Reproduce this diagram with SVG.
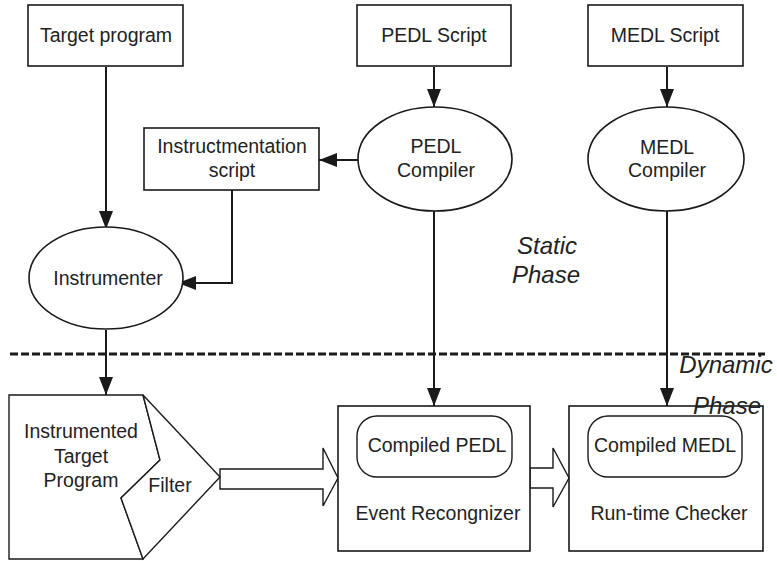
<svg xmlns="http://www.w3.org/2000/svg" width="777" height="561" viewBox="0 0 777 561">
  <style>
    .box { fill: #fff; stroke: #1a1a1a; stroke-width: 1.6; }
    .line { fill: none; stroke: #1a1a1a; stroke-width: 2; }
    .thin { fill: #fff; stroke: #1a1a1a; stroke-width: 1.4; }
    text { font-family: "Liberation Sans", Arial, sans-serif; font-size: 19.5px; fill: #222; text-anchor: middle; }
    .phase { font-size: 24px; font-style: italic; }
  </style>
  <defs>
    <marker id="arrow" markerUnits="userSpaceOnUse" markerWidth="18" markerHeight="14" refX="18" refY="7" orient="auto">
      <path d="M0,0 L18,7 L0,14 Z" fill="#1a1a1a"/>
    </marker>
  </defs>

  <!-- phase separator -->
  <line x1="10" y1="354" x2="765" y2="354" stroke="#1a1a1a" stroke-width="3" stroke-dasharray="8,3"/>

  <g id="connectors">
    <path class="line" d="M106,67 V229" marker-end="url(#arrow)"/>
    <path class="line" d="M434,67 V107" marker-end="url(#arrow)"/>
    <path class="line" d="M667,67 V107" marker-end="url(#arrow)"/>
    <path class="line" d="M358,160 H319" marker-end="url(#arrow)"/>
    <path class="line" d="M232,190 V283 H178" marker-end="url(#arrow)"/>
    <path class="line" d="M106,330 V395" marker-end="url(#arrow)"/>
    <path class="line" d="M434,211 V406" marker-end="url(#arrow)"/>
    <path class="line" d="M667,211 V406" marker-end="url(#arrow)"/>
    <!-- block arrows -->
    <path class="thin" d="M220,469 H323 V448 L338,478 L323,506 V489 H220 Z"/>
    <path class="thin" d="M530,468 H553 V448 L569,478 L553,507 V488 H530 Z"/>
  </g>

  <g id="target-program">
    <rect class="box" x="28" y="5" width="155" height="61"/>
    <text x="106" y="42">Target program</text>
  </g>

  <g id="pedl-script">
    <rect class="box" x="357" y="5" width="154" height="61"/>
    <text x="434" y="42">PEDL Script</text>
  </g>

  <g id="medl-script">
    <rect class="box" x="588" y="5" width="155" height="61"/>
    <text x="665" y="42">MEDL Script</text>
  </g>

  <g id="pedl-compiler">
    <ellipse class="box" cx="435" cy="159" rx="77" ry="52"/>
    <text x="436" y="153">PEDL</text>
    <text x="436" y="177">Compiler</text>
  </g>

  <g id="medl-compiler">
    <ellipse class="box" cx="666" cy="159" rx="78" ry="52"/>
    <text x="667" y="154">MEDL</text>
    <text x="667" y="177">Compiler</text>
  </g>

  <g id="instrumentation-script">
    <rect class="box" x="144" y="128" width="175" height="62"/>
    <text x="232" y="153">Instructmentation</text>
    <text x="232" y="177">script</text>
  </g>

  <g id="instrumenter">
    <ellipse class="box" cx="106" cy="278" rx="77" ry="51"/>
    <text x="108" y="285">Instrumenter</text>
  </g>

  <g id="static-phase">
    <text class="phase" x="547" y="254">Static</text>
    <text class="phase" x="546" y="283">Phase</text>
  </g>

  <g id="instrumented-target">
    <path class="thin" d="M9,395 H143 L160,460 L121,498 L143,559 H9 Z"/>
    <text x="81" y="438">Instrumented</text>
    <text x="81" y="463">Target</text>
    <text x="81" y="487">Program</text>
  </g>

  <g id="filter">
    <path class="thin" d="M143,395 L220,477 L143,559 L121,498 L160,460 Z"/>
    <text x="170" y="492">Filter</text>
  </g>

  <g id="event-recognizer">
    <rect class="box" x="338" y="406" width="192" height="145"/>
    <rect class="thin" x="357" y="416" width="155" height="61" rx="20" ry="20"/>
    <text x="437" y="452">Compiled PEDL</text>
    <text x="438" y="520">Event Recongnizer</text>
  </g>

  <g id="runtime-checker">
    <rect class="box" x="569" y="406" width="194" height="145"/>
    <rect class="thin" x="588" y="416" width="154" height="61" rx="20" ry="20"/>
    <text x="665" y="452">Compiled MEDL</text>
    <text x="669" y="520">Run-time Checker</text>
  </g>

  <g id="dynamic-phase">
    <text class="phase" x="726" y="373">Dynamic</text>
    <text class="phase" x="727" y="414">Phase</text>
  </g>
</svg>
